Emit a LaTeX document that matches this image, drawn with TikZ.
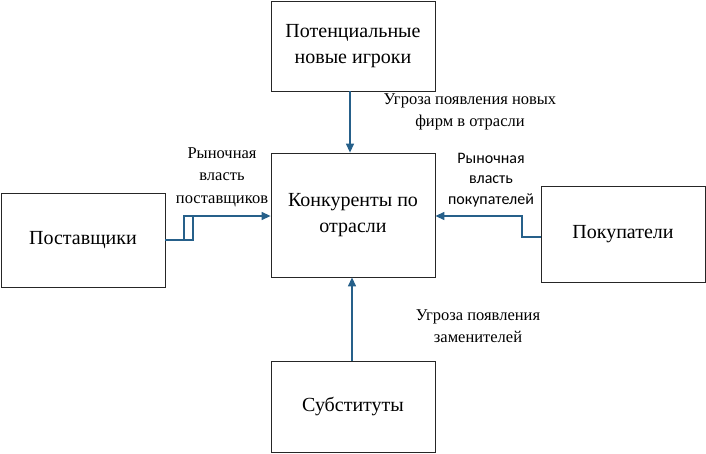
\documentclass[tikz,border=0pt]{standalone}
\usepackage{fontspec}
\newfontfamily\fa{Liberation Serif}
\newfontfamily\fd{Carlito}
\usetikzlibrary{arrows.meta}
\definecolor{arrcol}{RGB}{38,96,138}
\begin{document}
\begin{tikzpicture}[x=1pt,y=-1pt,
  box/.style={draw=black!85,line width=0.8pt,minimum width=164pt,align=center,font=\fontsize{20}{26}\selectfont,inner sep=0pt},
  conn/.style={draw=arrcol,line width=1.3pt},
  arr/.style={conn,-{Triangle[length=9pt,width=8pt]}},
  lab/.style={align=center,font=\fontsize{16.5}{22.5}\selectfont,inner sep=0pt},
  slab/.style={align=center,font=\fontsize{16}{20.5}\selectfont,inner sep=0pt}]
\useasboundingbox (0,0) rectangle (706,453);
\node[box,minimum height=90pt] (top) at (353,46) {{\fa Потенциальные}\\{\fa новые игроки}};
\node[box,minimum height=124pt] (center) at (353,215) {{\fa Конкуренты по}\\{\fa отрасли}};
\node[box,minimum height=91pt] (bottom) at (353,406.5) {{\fa Субституты}};
\node[box,minimum height=94pt] (left) at (83,240) {{\fa Поставщики}};
\node[box,minimum height=96pt] (right) at (623,234) {{\fa Покупатели}};
\draw[arr] ([xshift=-3pt]top.south) -- ([xshift=-3pt]center.north);
\draw[arr] ([xshift=-1pt]bottom.north) -- ([xshift=-1pt]center.south);
\draw[conn] (left.east) -- (193,240) -- (193,216) -- (184,216) -- (184,240);
\draw[arr] (184,216) -- (center.west |- 0,216);
\draw[arr] (right.west |- 0,237) -- (522,237) -- (522,216) -- (center.east |- 0,216);
\node[lab] (l1) at (470,112) {{\fa Угроза появления новых}\\{\fa фирм в отрасли}};
\node[lab] (l2) at (222,177) {{\fa Рыночная}\\{\fa власть}\\{\fa поставщиков}};
\node[slab] (l3) at (491,180) {{\fd Рыночная}\\{\fd власть}\\{\fd покупателей}};
\node[lab] (l4) at (478,326) {{\fa Угроза появления}\\{\fa заменителей}};
\end{tikzpicture}
\end{document}
